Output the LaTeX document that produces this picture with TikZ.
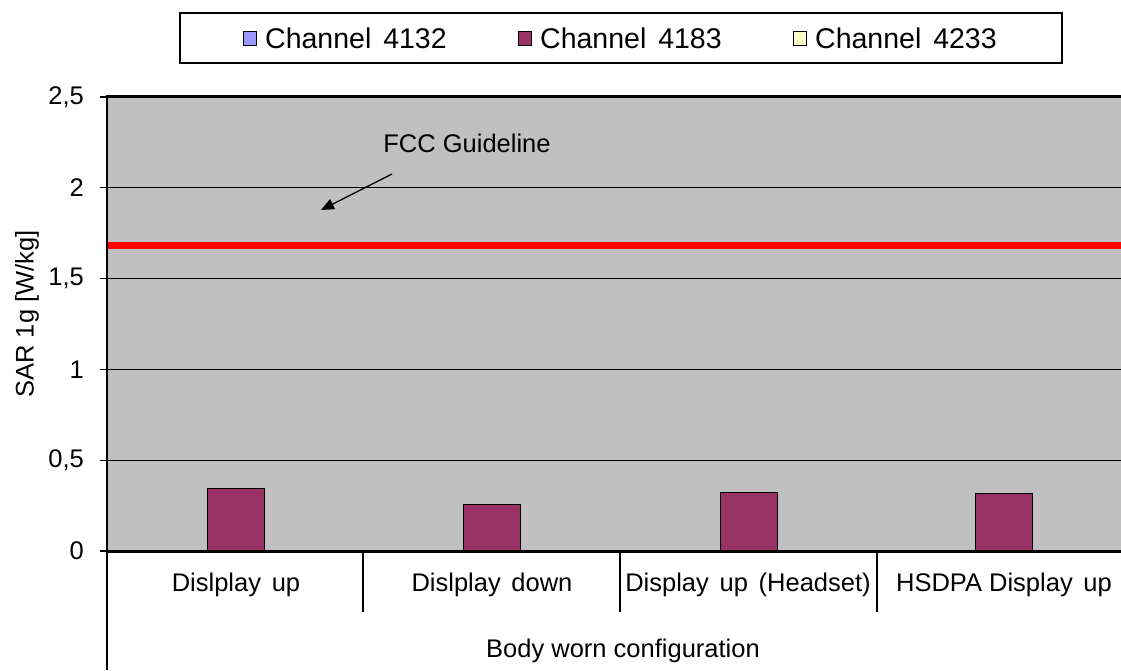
\documentclass[tikz,border=0pt]{standalone}
\usepackage{fontspec}
\setmainfont{Liberation Sans}
\usetikzlibrary{arrows.meta}
\definecolor{plotgray}{HTML}{C0C0C0}
\definecolor{plum}{HTML}{993366}
\definecolor{lblue}{HTML}{9999FF}
\definecolor{lyellow}{HTML}{FFFFCC}
\newcommand{\gap}{\hspace{0.42em}}
\tikzset{
  lbl/.style={font=\fontsize{25.5}{30}\selectfont, inner sep=0pt},
  leglbl/.style={font=\fontsize{28.5}{33}\selectfont, inner sep=0pt},
  grid line/.style={line width=1.4pt, black},
  bar/.style={draw=black, line width=1pt, fill=plum, minimum width=57pt, anchor=south, inner sep=0pt},
  legsq/.style={draw=black, line width=1.2pt, minimum width=13pt, minimum height=14pt, inner sep=0pt},
  axisline/.style={line width=3pt, black},
}
\begin{document}
\begin{tikzpicture}[x=1pt,y=1pt]
\useasboundingbox (0,0) rectangle (1121,670);
% plot area
\fill[plotgray] (107,119) rectangle (1125,573);
% gridlines
\foreach \v in {0.5,1,1.5,2}{
  \draw[grid line] (100,{119+\v*181.6}) -- (1121,{119+\v*181.6});
}
\draw[grid line] (100,573) -- (107,573);
\draw[grid line] (100,119) -- (107,119);
% tick labels
\node[lbl, anchor=east] (t0) at (84,119) {0};
\node[lbl, anchor=east] (t05) at (84,209.8) {0,5};
\node[lbl, anchor=east] (t1) at (84,300.6) {1};
\node[lbl, anchor=east] (t15) at (84,391.4) {1,5};
\node[lbl, anchor=east] (t2) at (84,482.2) {2};
\node[lbl, anchor=east] (t25) at (84,573) {2,5};
% y label
\node[lbl, rotate=90] (ylab) at (27,356) {SAR 1g [W/kg]};
% FCC line
\draw[red, line width=7pt] (107,424) -- (1121,424);
% bars
\node[bar, minimum height=62pt] (b1) at (236,119) {};
\node[bar, minimum height=46pt] (b2) at (492,119) {};
\node[bar, minimum height=58pt] (b3) at (749,119) {};
\node[bar, minimum height=57pt] (b4) at (1004,119) {};
% axes
\draw[axisline] (107,573) -- (1121,573);
\draw[axisline] (105.5,119) -- (1121,119);
\draw[line width=2.5pt] (107,574.5) -- (107,0);
% category dividers
\foreach \x in {363,620,877}{
  \draw[line width=1.4pt] (\x,119) -- (\x,58);
}
% category labels
\node[lbl] (c1) at (236,85) {Dislplay\gap up};
\node[lbl] (c2) at (492,85) {Dislplay\gap down};
\node[lbl] (c3) at (748,85) {Display\gap up\gap (Headset)};
\node[lbl] (c4) at (1004,85) {HSDPA Display\gap up};
\node[lbl] (cat) at (623,19) {Body worn configuration};
% FCC annotation
\node[lbl] (fcc) at (467,527) {FCC Guideline};
\coordinate (arrS) at (392,496);
\coordinate (arrE) at (321,460);
\draw[line width=1.3pt, -{Triangle[length=13pt,width=11pt]}] (arrS) -- (arrE);
% legend
\node[draw, line width=2pt, minimum width=882pt, minimum height=50pt, inner sep=0pt] (leg) at (621,632.3) {};
\node[legsq, fill=lblue] (s1) at (250,631.5) {};
\node[leglbl, anchor=west] (l1) at (265,632) {Channel\gap 4132};
\node[legsq, fill=plum] (s2) at (525,631.5) {};
\node[leglbl, anchor=west] (l2) at (540,632) {Channel\gap 4183};
\node[legsq, fill=lyellow] (s3) at (800,631.5) {};
\node[leglbl, anchor=west] (l3) at (815,632) {Channel\gap 4233};
\end{tikzpicture}
\end{document}
